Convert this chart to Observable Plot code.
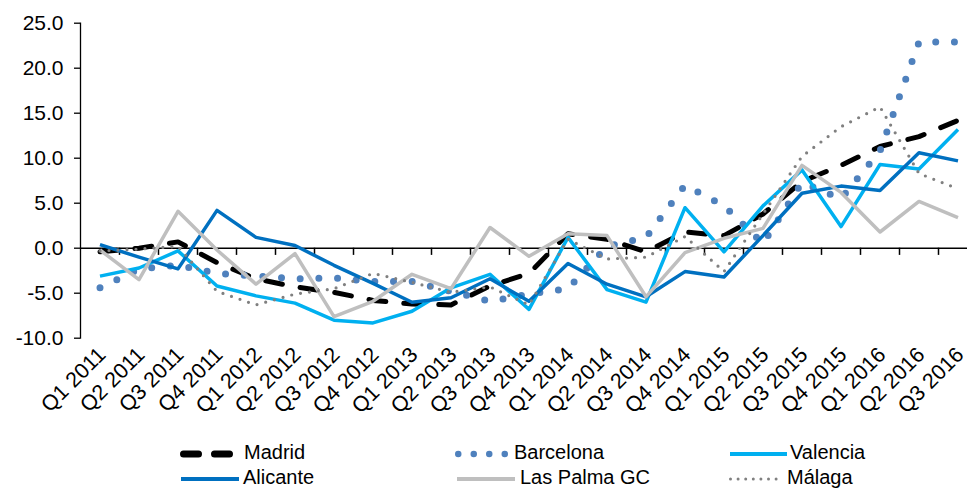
<!DOCTYPE html>
<html>
<head>
<meta charset="utf-8">
<script src="https://cdn.jsdelivr.net/npm/d3@7"></script>
<script src="https://cdn.jsdelivr.net/npm/@observablehq/plot@0.6"></script>
<style>
  html, body { margin: 0; padding: 0; background: #fff; overflow: hidden; }
  body { width: 967px; height: 489px; position: relative; font-family: "Liberation Sans", Arial, sans-serif; }
  #chart svg { display: block; }
  .leg { position: absolute; font-size: 20px; color: #000; line-height: 1; white-space: nowrap; }
  .sw { position: absolute; }
</style>
</head>
<body>
<div id="chart"></div>
<div id="legend"></div>
<script>
// ---- data ----
const quarters = ["Q1 2011","Q2 2011","Q3 2011","Q4 2011","Q1 2012","Q2 2012","Q3 2012","Q4 2012",
  "Q1 2013","Q2 2013","Q3 2013","Q4 2013","Q1 2014","Q2 2014","Q3 2014","Q4 2014",
  "Q1 2015","Q2 2015","Q3 2015","Q4 2015","Q1 2016","Q2 2016","Q3 2016"];
const yTicks = [-10, -5, 0, 5, 10, 15, 20, 25];
const seriesNames = ["Madrid", "Barcelona", "Valencia", "Alicante", "Las Palma GC", "Málaga"];
const madrid    = [-0.4, 0.0, 0.7, -1.6, -3.4, -4.3, -4.9, -5.8, -6.2, -6.3, -4.2, -2.8, 1.6, 1.0, -0.4, 1.8, 1.4, 3.8, 7.4, 9.2, 11.3, 12.4, 14.2];
const barcelona = [-4.4, -2.3, -1.9, -2.8, -3.1, -3.4, -3.3, -3.7, -3.7, -4.8, -5.9, -5.1, -4.5, 0.2, 1.2, 7.0, 4.7, 0.5, 7.3, 5.5, 10.8, 22.9, 22.9];
const valencia  = [-3.1, -2.2, -0.3, -4.2, -5.3, -6.1, -8.0, -8.3, -7.0, -4.4, -2.9, -6.8, 1.2, -4.6, -6.0, 4.5, -0.4, 4.7, 8.7, 2.4, 9.3, 8.8, 13.2];
const alicante  = [0.4, -1.0, -2.3, 4.2, 1.2, 0.3, -1.9, -3.9, -6.0, -5.5, -3.4, -5.9, -1.7, -4.0, -5.4, -2.6, -3.2, 1.4, 6.1, 6.9, 6.4, 10.6, 9.7];
const laspalmas = [-0.2, -3.5, 4.1, -0.2, -4.0, -0.6, -7.6, -5.9, -2.9, -4.5, 2.3, -0.9, 1.6, 1.4, -5.4, -0.5, 1.1, 2.2, 9.2, 6.2, 1.8, 5.2, 3.4];
const malaga    = [-0.3, -0.1, 0.2, -4.8, -6.3, -5.1, -4.5, -2.8, -3.8, -4.9, -4.3, -6.3, 1.0, -1.2, -1.0, 1.3, -2.6, 3.8, 10.2, 13.5, 15.7, 8.3, 6.6];

// ---- styles ----
const styles = [
  {stroke: "#000000", strokeWidth: 5,   strokeDasharray: "17,18", strokeLinecap: "round"},
  {stroke: "#4F81BD", strokeWidth: 7,   strokeDasharray: "0,18.7", strokeLinecap: "round"},
  {stroke: "#00B0F0", strokeWidth: 3.5, strokeLinecap: "butt"},
  {stroke: "#0070C0", strokeWidth: 3.5, strokeLinecap: "butt"},
  {stroke: "#BFBFBF", strokeWidth: 3.5, strokeLinecap: "butt"},
  {stroke: "#808080", strokeWidth: 3.2, strokeDasharray: "0,9", strokeLinecap: "round"}
];
const allValues = [madrid, barcelona, valencia, alicante, laspalmas, malaga];

const idx = quarters.map((q, i) => i);
const boundaries = idx.slice(0, -1).map(i => i + 0.5);

const W = 967, H = 430;
const mL = 80, mT = 22.7, mB = 92.3;
const xRight = 977;

const lineMarks = allValues.map((vals, s) =>
  Plot.line(idx, {x: i => i, y: i => vals[i], strokeLinejoin: "round", ...styles[s]})
);

const chart = Plot.plot({
  width: W, height: H,
  marginLeft: mL, marginTop: mT, marginBottom: mB, marginRight: W - xRight,
  style: {fontFamily: "'Liberation Sans', Arial, sans-serif", color: "#000", background: "#fff", overflow: "hidden"},
  x: {type: "linear", domain: [-0.5, quarters.length - 0.5], range: [mL, xRight]},
  y: {type: "linear", domain: [yTicks[0], yTicks[yTicks.length - 1]], range: [H - mB, mT]},
  marks: [
    Plot.frame({anchor: "left", stroke: "#000", strokeWidth: 1.3}),
    Plot.axisY({ticks: yTicks, tickFormat: d => d.toFixed(1), tickSize: 6, tickPadding: 11, fontSize: 21, stroke: "#000", strokeWidth: 1.3}),
    Plot.axisX({ticks: idx, tickFormat: i => quarters[i], tickRotate: -45, tickSize: 0, tickPadding: 6, fontSize: 21.5, dx: 2, dy: 7}),
    Plot.ruleY([0], {stroke: "#000", strokeWidth: 1.5}),
    Plot.ruleX(boundaries, {x: d => d, y1: 0, y2: -0.8, stroke: "#000", strokeWidth: 1.5}),
    ...lineMarks
  ]
});
document.getElementById("chart").appendChild(chart);

// ---- legend ----
const legendPos = [
  {sx: 180, sw: 54, tx: 244, row: 0},
  {sx: 455, sw: 54, tx: 514, row: 0},
  {sx: 730, sw: 57, tx: 790, row: 0},
  {sx: 181, sw: 58, tx: 243, row: 1},
  {sx: 457, sw: 58, tx: 520, row: 1},
  {sx: 729, sw: 52, tx: 787, row: 1}
];
const legendSwatchStyle = [
  {w: 7,   dash: "15,16", cap: "round"},
  {w: 6.5, dash: "0,15.5", cap: "round"},
  {w: 4,   dash: null, cap: "butt"},
  {w: 4,   dash: null, cap: "butt"},
  {w: 4,   dash: null, cap: "butt"},
  {w: 3,   dash: "0,7.6", cap: "round"}
];
const rowTop = [442, 467];
const leg = document.getElementById("legend");
seriesNames.forEach((name, s) => {
  const p = legendPos[s], ls = legendSwatchStyle[s];
  const cy = rowTop[p.row] + 12;
  const svgNS = "http://www.w3.org/2000/svg";
  const svg = document.createElementNS(svgNS, "svg");
  svg.setAttribute("class", "sw");
  svg.setAttribute("width", p.sw);
  svg.setAttribute("height", 12);
  svg.style.left = p.sx + "px";
  svg.style.top = (cy - 6) + "px";
  const ln = document.createElementNS(svgNS, "line");
  const inset = ls.cap === "round" ? ls.w / 2 : 0;
  ln.setAttribute("x1", inset); ln.setAttribute("x2", p.sw - inset);
  ln.setAttribute("y1", 6); ln.setAttribute("y2", 6);
  ln.setAttribute("stroke", styles[s].stroke);
  ln.setAttribute("stroke-width", ls.w);
  ln.setAttribute("stroke-linecap", ls.cap);
  if (ls.dash) ln.setAttribute("stroke-dasharray", ls.dash);
  svg.appendChild(ln);
  leg.appendChild(svg);
  const t = document.createElement("div");
  t.className = "leg";
  t.textContent = name;
  t.style.left = p.tx + "px";
  t.style.top = rowTop[p.row] + "px";
  leg.appendChild(t);
});
</script>
</body>
</html>
